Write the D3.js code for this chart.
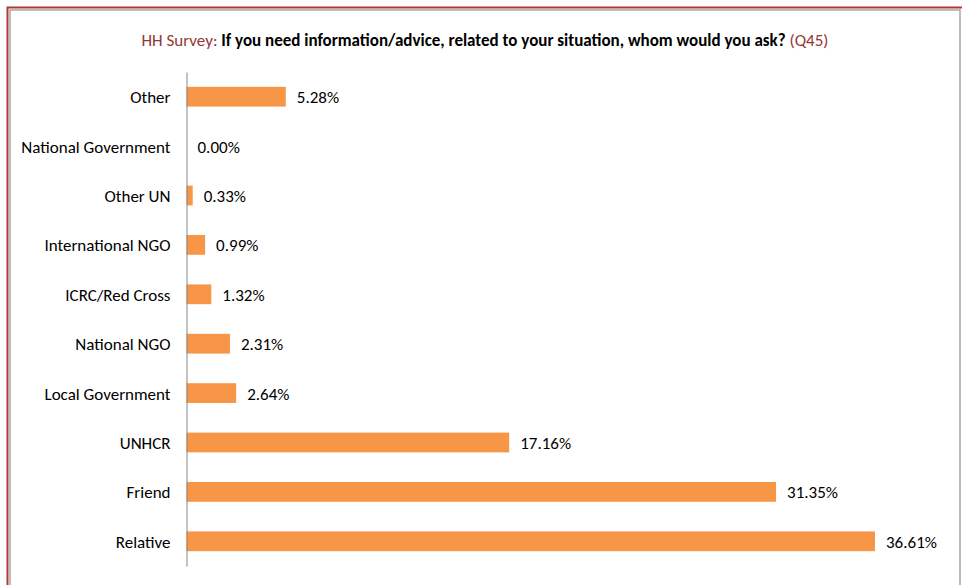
<!DOCTYPE html>
<meta charset="utf-8">
<style>
body {
  margin: 0;
  background: #fff;
  font-family: Carlito, Calibri, "Liberation Sans", sans-serif;
}
.cat text {
  font-family: Carlito, Calibri, "Liberation Sans", sans-serif;
  font-size: 17px;
  fill: #000;
}
.val {
  font-size: 17px;
  fill: #000;
}
</style>
<body>
<script src="https://d3js.org/d3.v7.min.js"></script>
<script>

var categories = ["Other", "National Government", "Other UN", "International NGO",
  "ICRC/Red Cross", "National NGO", "Local Government", "UNHCR", "Friend", "Relative"];
var values = [5.28, 0.00, 0.33, 0.99, 1.32, 2.31, 2.64, 17.16, 31.35, 36.61];
var titleParts = ["HH Survey: ", "If you need information/advice, related to your situation, whom would you ask?", " (Q45)"];

var width = 962, height = 585;

var svg = d3.select("body").append("svg")
    .attr("width", width)
    .attr("height", height);

// frame
svg.append("rect")
    .attr("x", 10).attr("y", 10)
    .attr("width", 950).attr("height", 590)
    .attr("fill", "none")
    .attr("stroke", "#a6a6a6")
    .attr("stroke-width", 1.5);
svg.append("path")
    .attr("d", "M7.5,590V7.5H962")
    .attr("fill", "none")
    .attr("stroke", "#b0393b")
    .attr("stroke-width", 2);

// title
var title = svg.append("text")
    .attr("x", 485)
    .attr("y", 46)
    .attr("text-anchor", "middle")
    .style("font-size", "17px");
title.append("tspan").attr("fill", "#953735").text(titleParts[0]);
title.append("tspan").attr("fill", "#000").attr("font-weight", "bold").text(titleParts[1]);
title.append("tspan").attr("fill", "#953735").text(titleParts[2]);

var x = d3.scaleLinear()
    .domain([0, 36.61])
    .range([186.5, 875]);

var y = d3.scaleBand()
    .domain(categories)
    .range([72, 566])
    .paddingInner(0.6)
    .paddingOuter(0.3);

svg.selectAll(".bar")
    .data(values)
  .enter().append("rect")
    .attr("class", "bar")
    .attr("x", x(0))
    .attr("y", function(d, i) { return y(categories[i]); })
    .attr("width", function(d) { return x(d) - x(0); })
    .attr("height", y.bandwidth())
    .attr("fill", "#f79646");

svg.selectAll(".val")
    .data(values)
  .enter().append("text")
    .attr("class", "val")
    .attr("x", function(d) { return x(d) + 11; })
    .attr("y", function(d, i) { return y(categories[i]) + y.bandwidth() / 2; })
    .attr("dy", "0.38em")
    .text(function(d) { return d.toFixed(2) + "%"; });

var yAxis = svg.append("g")
    .attr("class", "cat")
    .attr("transform", "translate(" + x(0) + ",0)")
    .call(d3.axisLeft(y).tickSize(0).tickPadding(16));
yAxis.selectAll(".tick text").attr("dy", "0.38em");
yAxis.select(".domain").attr("stroke", "#868686");

</script>
